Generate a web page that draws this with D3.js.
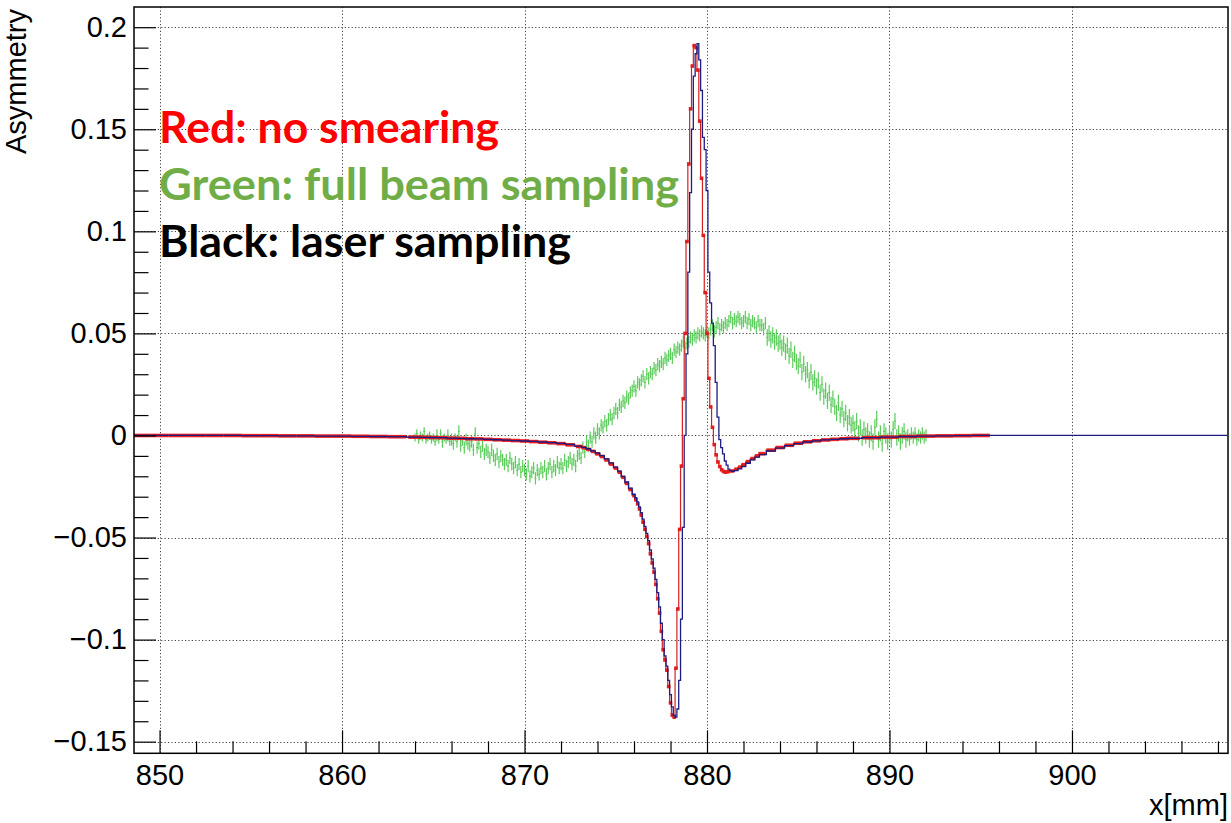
<!DOCTYPE html>
<html><head><meta charset="utf-8">
<script src="https://cdn.jsdelivr.net/npm/d3@7"></script>
<style>
html,body{margin:0;padding:0;background:#fff;}
svg{display:block;}
</style></head>
<body>
<svg id="chart" width="1231" height="823"></svg>
<script>
// ---------------- DATA ----------------
const xTicks = [850, 860, 870, 880, 890, 900];
const xTickLabels = ["850", "860", "870", "880", "890", "900"];
const yTicks = [-0.15, -0.1, -0.05, 0, 0.05, 0.1, 0.15, 0.2];
const yTickLabels = ["\u22120.15", "\u22120.1", "\u22120.05", "0", "0.05", "0.1", "0.15", "0.2"];
const xTitle = "x[mm]";
const yTitle = "Asymmetry";
const legendLabels = ["Red: no smearing", "Green: full beam sampling", "Black: laser sampling"];

// Red: no smearing (bin centers, mm)
const redX = [849,850,851,852,853,854,855,856,857,858,859,860,861,862,863,
  864,864.5,865,865.5,866,866.5,867,867.5,868,868.5,869,869.5,870,870.5,871,871.5,872,872.5,
  873,873.25,873.5,873.75,874,874.25,874.5,874.75,875,875.2,875.4,875.6,875.8,
  876,876.1,876.2,876.3,876.4,876.5,876.6,876.7,876.8,876.9,
  877,877.1,877.2,877.3,877.4,877.5,877.6,877.7,877.8,877.9,
  878,878.1,878.2,878.3,878.4,878.5,878.6,878.7,878.8,878.9,
  879,879.1,879.2,879.3,879.4,879.5,879.6,879.7,879.8,879.9,
  880,880.1,880.2,880.3,880.4,880.5,880.6,880.7,880.8,880.9,
  881,881.1,881.2,881.4,881.6,881.8,882,882.25,882.5,882.75,
  883,883.5,884,884.5,885,885.5,886,886.5,887,887.5,888,889,890,891,892,893,894,895];
const redY = [0,0,0,0,0,0,-0.0001,-0.0001,-0.0002,-0.0002,-0.0003,-0.0003,-0.0004,-0.0005,-0.0006,
  -0.0008,-0.0009,-0.0010,-0.0011,-0.0013,-0.0014,-0.0016,-0.0017,-0.0019,-0.0021,-0.0023,-0.0025,-0.0027,-0.0030,-0.0033,-0.0036,-0.0040,-0.0046,
  -0.0054,-0.0060,-0.0068,-0.0078,-0.0090,-0.0103,-0.0120,-0.0140,-0.0160,-0.0180,-0.0205,-0.0235,-0.0265,
  -0.0295,-0.0315,-0.0335,-0.0360,-0.0390,-0.0425,-0.0460,-0.0495,-0.0530,-0.0580,
  -0.0625,-0.0670,-0.0730,-0.0800,-0.0870,-0.0960,-0.1050,-0.1100,-0.1150,-0.1230,
  -0.1310,-0.1370,-0.1380,-0.1140,-0.0850,-0.0460,-0.0150,0.0180,0.0500,0.0950,
  0.1330,0.1600,0.1810,0.1910,0.1900,0.1790,0.1540,0.1260,0.0980,0.0700,
  0.0500,0.0280,0.0140,0.0040,-0.0045,-0.0095,-0.0130,-0.0152,-0.0168,-0.0176,
  -0.0180,-0.0178,-0.0176,-0.0174,-0.0165,-0.0155,-0.0143,-0.0128,-0.0113,-0.0100,
  -0.0089,-0.0072,-0.0059,-0.0048,-0.0038,-0.0031,-0.0026,-0.0022,-0.0019,-0.0016,-0.0014,-0.0011,-0.0008,-0.0005,-0.0003,-0.0002,-0.0001,0];

// Black: laser sampling (drawn in navy)
const navyX = [849,850,851,852,853,854,855,856,857,858,859,860,861,862,863,
  864,864.5,865,865.5,866,866.5,867,867.5,868,868.5,869,869.5,870,870.5,871,871.5,872,872.5,
  873,873.25,873.5,873.75,874,874.25,874.5,874.75,875,875.2,875.4,875.6,875.8,
  876,876.1,876.2,876.3,876.4,876.5,876.6,876.7,876.8,876.9,
  877,877.1,877.2,877.3,877.4,877.5,877.6,877.7,877.8,877.9,
  878,878.1,878.2,878.3,878.4,878.5,878.6,878.7,878.8,878.9,
  879,879.1,879.2,879.3,879.4,879.5,879.6,879.7,879.8,879.9,
  880,880.1,880.2,880.3,880.4,880.5,880.6,880.7,880.8,880.9,
  881,881.1,881.2,881.3,881.4,881.6,881.8,882,882.25,882.5,882.75,
  883,883.5,884,884.5,885,885.5,886,886.5,887,887.5,888,889,890,891,892,893,894,895,
  896,897,898,899,900,901,902,903,904,905,906,907,908];
const navyY = [0,0,0,0,0,0,-0.0001,-0.0001,-0.0002,-0.0002,-0.0003,-0.0003,-0.0004,-0.0005,-0.0006,
  -0.0008,-0.0009,-0.0010,-0.0011,-0.0013,-0.0014,-0.0016,-0.0017,-0.0019,-0.0021,-0.0023,-0.0025,-0.0027,-0.0029,-0.0032,-0.0035,-0.0039,-0.0044,
  -0.0052,-0.0058,-0.0065,-0.0075,-0.0086,-0.0099,-0.0115,-0.0134,-0.0155,-0.0175,-0.0200,-0.0228,-0.0258,
  -0.0288,-0.0305,-0.0325,-0.0350,-0.0378,-0.0410,-0.0445,-0.0480,-0.0515,-0.0560,
  -0.0605,-0.0650,-0.0705,-0.0770,-0.0840,-0.0920,-0.1000,-0.1080,-0.1130,-0.1200,
  -0.1270,-0.1330,-0.1370,-0.1380,-0.1340,-0.1200,-0.0900,-0.0450,0.0000,0.0400,
  0.0800,0.1190,0.1500,0.1760,0.1870,0.1920,0.1840,0.1690,0.1460,0.1400,
  0.1200,0.0800,0.0650,0.0550,0.0440,0.0260,0.0090,-0.0020,-0.0060,-0.0090,
  -0.0125,-0.0145,-0.0165,-0.0172,-0.0176,-0.0172,-0.0164,-0.0152,-0.0136,-0.0120,-0.0106,
  -0.0094,-0.0076,-0.0062,-0.0050,-0.0040,-0.0032,-0.0026,-0.0022,-0.0019,-0.0016,-0.0014,-0.0011,-0.0008,-0.0005,-0.0003,-0.0002,-0.0001,0,
  0,0,0,0,0,0,0,0,0,0,0,0,0];

// Green: full beam sampling, 0.1 mm bins, first center 864.0
const greenStart = 864.0, greenStep = 0.1;
const greenY = [
 -0.001, 0.001,-0.002, 0.000,-0.001, 0.002,-0.002,-0.001, 0.000,-0.002,
 -0.001,-0.003, 0.000,-0.002, 0.001,-0.003,-0.001,-0.002, 0.000,-0.003,
 -0.002,-0.004,-0.001,-0.003, 0.002,-0.005,-0.003,-0.006,-0.002,-0.004,
 -0.005,-0.003,-0.007, 0.001,-0.006,-0.004,-0.008,-0.005,-0.009,-0.007,
 -0.008,-0.011,-0.007,-0.010,-0.012,-0.009,-0.013,-0.010,-0.012,-0.014,
 -0.012,-0.015,-0.011,-0.014,-0.016,-0.013,-0.017,-0.014,-0.018,-0.015,
 -0.017,-0.019,-0.015,-0.020,-0.018,-0.016,-0.021,-0.017,-0.019,-0.016,
 -0.018,-0.015,-0.019,-0.016,-0.014,-0.018,-0.015,-0.017,-0.013,-0.016,
 -0.014,-0.016,-0.012,-0.015,-0.013,-0.011,-0.014,-0.012,-0.015,-0.010,
 -0.009,-0.011,-0.006,-0.008,-0.003,-0.005,-0.001,-0.003, 0.001,-0.001,
  0.003, 0.001, 0.005, 0.004, 0.007, 0.005, 0.008, 0.010, 0.008, 0.011,
  0.013, 0.011, 0.015, 0.014, 0.017, 0.016, 0.019, 0.018, 0.021, 0.022,
  0.024, 0.022, 0.026, 0.025, 0.027, 0.029, 0.026, 0.030, 0.028, 0.031,
  0.030, 0.033, 0.032, 0.035, 0.034, 0.036, 0.035, 0.038, 0.037, 0.039,
  0.040, 0.038, 0.042, 0.041, 0.043, 0.042, 0.044, 0.046, 0.043, 0.045,
  0.046, 0.048, 0.047, 0.049, 0.048, 0.050, 0.049, 0.051, 0.050, 0.049,
  0.051, 0.050, 0.052, 0.054, 0.051, 0.053, 0.055, 0.052, 0.054, 0.053,
  0.055, 0.054, 0.056, 0.058, 0.055, 0.057, 0.056, 0.058, 0.057, 0.055,
  0.056, 0.058, 0.055, 0.057, 0.054, 0.056, 0.055, 0.053, 0.056, 0.054,
  0.054, 0.052, 0.055, 0.048, 0.050, 0.047, 0.049, 0.046, 0.048, 0.045,
  0.046, 0.043, 0.045, 0.041, 0.044, 0.039, 0.042, 0.037, 0.040, 0.036,
  0.034, 0.037, 0.031, 0.035, 0.030, 0.032, 0.027, 0.031, 0.026, 0.028,
  0.024, 0.027, 0.021, 0.025, 0.019, 0.022, 0.017, 0.021, 0.015, 0.018,
  0.014, 0.011, 0.016, 0.010, 0.013, 0.008, 0.011, 0.006, 0.009, 0.005,
  0.006, 0.003, 0.007, 0.001, 0.004,-0.001, 0.003, 0.000, 0.002,-0.002,
  0.001,-0.003, 0.004, 0.008,-0.002, 0.001,-0.004, 0.002, 0.000,-0.003,
  0.001,-0.002, 0.003, 0.007,-0.001, 0.001,-0.003, 0.000, 0.002,-0.002,
  0.000,-0.002, 0.001,-0.001, 0.001,-0.002, 0.000,-0.001, 0.001,-0.001,
  0.000];
const greenErr = [
 0.002,0.002,0.002,0.002,0.002,0.002,0.002,0.002,0.002,0.002,
 0.002,0.002,0.003,0.002,0.002,0.003,0.002,0.002,0.003,0.002,
 0.003,0.003,0.002,0.003,0.003,0.003,0.002,0.003,0.003,0.003,
 0.003,0.003,0.003,0.003,0.003,0.003,0.003,0.003,0.003,0.003,
 0.003,0.003,0.003,0.003,0.003,0.003,0.003,0.003,0.003,0.003,
 0.003,0.003,0.003,0.003,0.003,0.003,0.003,0.003,0.003,0.003,
 0.003,0.003,0.003,0.003,0.003,0.003,0.003,0.003,0.003,0.003,
 0.003,0.003,0.003,0.003,0.003,0.003,0.003,0.003,0.003,0.003,
 0.003,0.003,0.003,0.003,0.003,0.003,0.003,0.003,0.003,0.003,
 0.003,0.003,0.003,0.003,0.003,0.003,0.003,0.003,0.003,0.003,
 0.003,0.003,0.003,0.003,0.003,0.003,0.003,0.003,0.003,0.003,
 0.003,0.003,0.003,0.003,0.003,0.003,0.003,0.003,0.003,0.003,
 0.003,0.003,0.003,0.003,0.003,0.003,0.003,0.003,0.003,0.003,
 0.003,0.003,0.003,0.003,0.003,0.003,0.003,0.003,0.003,0.003,
 0.003,0.003,0.003,0.003,0.003,0.003,0.003,0.003,0.003,0.003,
 0.003,0.003,0.003,0.003,0.003,0.003,0.003,0.003,0.003,0.003,
 0.003,0.003,0.003,0.003,0.003,0.003,0.003,0.003,0.003,0.003,
 0.003,0.003,0.003,0.003,0.003,0.003,0.003,0.003,0.003,0.003,
 0.003,0.003,0.003,0.003,0.003,0.003,0.003,0.003,0.003,0.003,
 0.003,0.003,0.003,0.004,0.004,0.004,0.004,0.004,0.004,0.004,
 0.004,0.004,0.004,0.004,0.004,0.004,0.004,0.004,0.004,0.004,
 0.004,0.004,0.004,0.004,0.004,0.004,0.004,0.004,0.004,0.004,
 0.004,0.004,0.004,0.004,0.004,0.004,0.004,0.004,0.004,0.004,
 0.004,0.004,0.004,0.004,0.004,0.004,0.004,0.004,0.004,0.004,
 0.004,0.004,0.004,0.004,0.004,0.004,0.004,0.004,0.004,0.004,
 0.004,0.004,0.004,0.004,0.004,0.004,0.004,0.004,0.004,0.004,
 0.004,0.004,0.004,0.004,0.004,0.004,0.004,0.004,0.004,0.004,
 0.003,0.003,0.003,0.003,0.003,0.003,0.003,0.003,0.003,0.003,
 0.003];

// ---------------- LAYOUT ----------------
const F = {left: 134, right: 1228, top: 7, bottom: 753.3};
const svg = d3.select("#chart");
const x = d3.scaleLinear().domain([848.6, 908.55]).range([F.left, F.right]);
const y = d3.scaleLinear().domain([-0.1557, 0.2099]).range([F.bottom, F.top]);

const labelFont = "'Liberation Sans', Arial, Helvetica, sans-serif";

svg.append("defs").append("clipPath").attr("id","clip")
  .append("rect").attr("x",F.left).attr("y",F.top).attr("width",F.right-F.left).attr("height",F.bottom-F.top);

// grid
const grid = svg.append("g").attr("stroke","#444").attr("stroke-width",1).attr("stroke-dasharray","1.2,2.2");
grid.selectAll("line.gx").data(xTicks).join("line").attr("class","gx")
  .attr("x1",d=>Math.round(x(d))+0.5).attr("x2",d=>Math.round(x(d))+0.5).attr("y1",F.top).attr("y2",F.bottom);
grid.selectAll("line.gy").data(yTicks).join("line").attr("class","gy")
  .attr("y1",d=>Math.round(y(d))+0.5).attr("y2",d=>Math.round(y(d))+0.5).attr("x1",F.left).attr("x2",F.right);

function edges(cs){
  const lo = [], hi = [];
  for (let i=0;i<cs.length;i++){
    lo.push(i===0 ? cs[0]-(cs[1]-cs[0])/2 : (cs[i-1]+cs[i])/2);
    hi.push(i===cs.length-1 ? cs[i]+(cs[i]-cs[i-1])/2 : (cs[i]+cs[i+1])/2);
  }
  return {lo, hi};
}
function stepPath(cs, vs){
  const e = edges(cs);
  let p = "M" + x(e.lo[0]) + "," + y(vs[0]);
  for (let i=0;i<cs.length;i++){
    if (i>0) p += "V" + y(vs[i]);
    p += "H" + x(e.hi[i]);
  }
  return p;
}

const plot = svg.append("g").attr("clip-path","url(#clip)");

// green with error bars
const greenX = greenY.map((_,i)=>+(greenStart + i*greenStep).toFixed(2));
const gG = plot.append("g").attr("stroke","#5ccb5c").attr("stroke-width",1.2).attr("fill","none");
greenX.forEach((c,i)=>{
  gG.append("line").attr("x1",x(c-greenStep/2)).attr("x2",x(c+greenStep/2)).attr("y1",y(greenY[i])).attr("y2",y(greenY[i]));
  gG.append("line").attr("x1",x(c)).attr("x2",x(c)).attr("y1",y(greenY[i]-greenErr[i])).attr("y2",y(greenY[i]+greenErr[i]));
});

// red markers + line
const re = edges(redX);
plot.append("g").attr("fill","#ee1c1c").selectAll("rect").data(redX).join("rect")
  .attr("x",(d,i)=>{const w=Math.max(3.6, x(re.hi[i])-x(re.lo[i])); return x(d)-w/2;})
  .attr("width",(d,i)=>Math.max(3.6, x(re.hi[i])-x(re.lo[i])))
  .attr("y",(d,i)=>y(redY[i])-1.8).attr("height",3.6);
plot.append("path").attr("d",stepPath(redX,redY)).attr("fill","none").attr("stroke","#d62020").attr("stroke-width",1.2);

// navy line
plot.append("path").attr("d",stepPath(navyX,navyY)).attr("fill","none").attr("stroke","#1c1c82").attr("stroke-width",1.3);

// axes
const xMinor = d3.range(852, 909, 2).filter(v=>v%10!==0);
const yMinor = d3.range(-14, 20, 1).filter(v=>v%5!==0).map(v=>v/100);

const gxMaj = svg.append("g").attr("transform",`translate(0,${F.bottom})`)
  .call(d3.axisBottom(x).tickValues(xTicks).tickSize(-23).tickPadding(11).tickFormat((d,i)=>xTickLabels[i]));
const gxMin = svg.append("g").attr("transform",`translate(0,${F.bottom})`)
  .call(d3.axisBottom(x).tickValues(xMinor).tickSize(-12).tickFormat(""));
const gyMaj = svg.append("g").attr("transform",`translate(${F.left},0)`)
  .call(d3.axisLeft(y).tickValues(yTicks).tickSize(-22).tickPadding(7).tickFormat((d,i)=>yTickLabels[i]));
const gyMin = svg.append("g").attr("transform",`translate(${F.left},0)`)
  .call(d3.axisLeft(y).tickValues(yMinor).tickSize(-14.5).tickFormat(""));
[gxMaj,gxMin,gyMaj,gyMin].forEach(g=>{
  g.select(".domain").remove();
  g.selectAll(".tick line").attr("stroke","#000").attr("stroke-width",1.2);
  g.selectAll("text").attr("font-family",labelFont).attr("font-size",29).attr("fill","#000");
});

// frame
svg.append("rect").attr("x",F.left).attr("y",F.top).attr("width",F.right-F.left).attr("height",F.bottom-F.top)
  .attr("fill","none").attr("stroke","#000").attr("stroke-width",1.5);

// axis titles
svg.append("text").attr("x",F.right).attr("y",815).attr("text-anchor","end")
  .attr("font-family",labelFont).attr("font-size",29).text(xTitle);
svg.append("text").attr("transform",`translate(26,9) rotate(-90)`).attr("text-anchor","end")
  .attr("font-family",labelFont).attr("font-size",29).text(yTitle);

// legend texts
const legendColors = ["#ff0000", "#70ad47", "#000000"];
const legendBase = [143, 200, 257];
const legendWidths = [340, 520, 412];
legendLabels.forEach((t,i)=>{
  svg.append("text").attr("x",159).attr("y",legendBase[i])
    .attr("font-family","Lato, 'Open Sans', sans-serif").attr("font-weight",700).attr("font-size",44)
    .attr("textLength",legendWidths[i]).attr("lengthAdjust","spacingAndGlyphs")
    .attr("fill",legendColors[i]).text(t);
});
</script>
</body></html>
